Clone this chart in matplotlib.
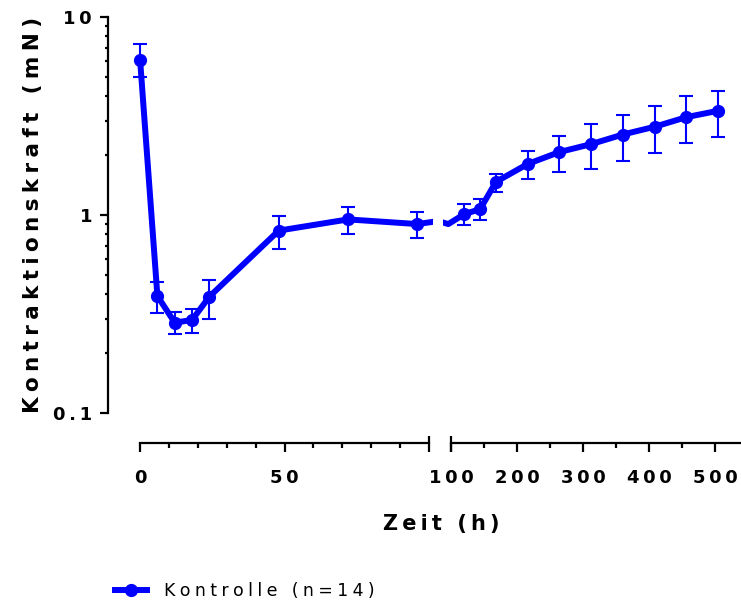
import matplotlib
matplotlib.use('Agg')
import matplotlib.pyplot as plt
from matplotlib.ticker import LogLocator, NullFormatter
import numpy as np

plt.rcParams['font.family'] = ['DejaVu Sans']

# Kontraktionskraft (mN) der Kontrollgruppe ueber die Zeit, Mittelwert und Fehlerbalken
time = np.array([0, 6, 12, 18, 24, 48, 72, 96, 120, 144, 168, 216, 264, 312, 360, 408, 456, 504])
force = np.array([6.1, 0.39, 0.286, 0.295, 0.387, 0.834, 0.95, 0.90, 1.01, 1.07, 1.47,
                  1.81, 2.08, 2.28, 2.55, 2.79, 3.12, 3.36])
upper = np.array([7.28, 0.46, 0.325, 0.335, 0.47, 0.99, 1.10, 1.035, 1.14, 1.20, 1.62,
                  2.10, 2.50, 2.87, 3.20, 3.56, 4.0, 4.23])
lower = np.array([5.0, 0.32, 0.25, 0.253, 0.297, 0.671, 0.805, 0.762, 0.89, 0.94, 1.30,
                  1.52, 1.64, 1.71, 1.88, 2.06, 2.30, 2.49])

xticks_left = [0, 50]
xticks_right = [100, 200, 300, 400, 500]
yticks = [0.1, 1, 10]
ytick_labels = ['0.1', '1', '10']
label = 'Kontrolle (n=14)'

blue = '#0000ff'
THIN = '\u2009'     # Prism-style letter spacing
QUARTER = '\u2005'


def spaced(s, sp=THIN):
    return sp.join(s)


W, H = 741, 604
fig = plt.figure(figsize=(W / 100, H / 100), dpi=100)


def fx(px):
    return px / W


def fy(py):
    return 1 - py / H


# broken x axis: 0-100 h (linear) and 100-500 h (compressed)
ax1 = fig.add_axes([fx(131.4), fy(413), (433 - 131.4) / W, 396 / H])
ax2 = fig.add_axes([fx(443), fy(413), (741 - 443) / W, 396 / H])

yerr = [force - lower, upper - force]
ekw = dict(ecolor=blue, elinewidth=1.5, capsize=4.7, capthick=1.5)

(line, caps, bars) = ax1.errorbar(time, force, yerr=yerr, fmt='-o', color=blue, lw=4.3,
                                  ms=8.5, **ekw)

right = time > 100
ax2.plot(time, force, '-', color=blue, lw=4.3)
ax2.errorbar(time[right], force[right], yerr=[force[right] - lower[right], upper[right] - force[right]],
             fmt='o', color=blue, ms=8.5, **ekw)

for ax in (ax1, ax2):
    ax.set_yscale('log')
    ax.set_ylim(0.1, 10)
    ax.set_facecolor('none')
    ax.spines['top'].set_visible(False)
    ax.spines['right'].set_visible(False)
    ax.spines['bottom'].set_position(('outward', 30 / 1.389))
    ax.spines['bottom'].set_linewidth(1.6)
    ax.spines['left'].set_linewidth(1.6)
    ax.tick_params(axis='x', which='major', length=6.5, width=1.6, pad=12)
    ax.tick_params(axis='x', which='minor', length=3.6, width=1.6)

ax1.set_xlim(-3, 101.4)
ax2.set_xlim(87.9, 538.7)
ax1.spines['bottom'].set_bounds(0, 100)
ax2.spines['bottom'].set_bounds(100, 538.7)
ax1.spines['left'].set_position(('outward', (131.4 - 108) / 1.389))
ax2.spines['left'].set_visible(False)
ax2.tick_params(axis='y', which='both', left=False, labelleft=False)

tick_font = dict(fontsize=13, fontweight='bold')
ax1.set_xticks(xticks_left, [spaced(str(t)) for t in xticks_left], **tick_font)
ax1.set_xticks(np.arange(10, 100, 10), minor=True)
ax2.set_xticks(xticks_right, [spaced(str(t)) for t in xticks_right], **tick_font)
ax2.set_xticks(np.arange(150, 500, 100), minor=True)

ax1.set_yticks(yticks, [spaced(s) for s in ytick_labels], **tick_font)
ax1.yaxis.set_minor_locator(LogLocator(base=10, subs=np.arange(2, 10)))
ax1.yaxis.set_minor_formatter(NullFormatter())
ax1.tick_params(axis='y', which='major', length=5.5, width=1.6, pad=6)
ax1.tick_params(axis='y', which='minor', length=2.5, width=1.6)

# break marks at 100 h on both segments
for ax in (ax1, ax2):
    ax.plot([100, 100], [-23 / 396, -39 / 396], transform=ax.get_xaxis_transform(),
            clip_on=False, color='k', lw=1.6, solid_capstyle='butt')

ax1.set_ylabel(spaced('Kontraktionskraft (mN)', QUARTER), fontsize=15.5, fontweight='bold')
ax1.yaxis.set_label_coords(-0.293, 0.5)
fig.text(fx(441), fy(524), spaced('Zeit (h)'), ha='center', va='center',
         fontsize=15, fontweight='bold')

fig.legend([line], [spaced(label, QUARTER)], loc='center left', bbox_to_anchor=(fx(115), fy(591)),
           frameon=False, fontsize=12.5, handlelength=1.85, handletextpad=1.0,
           borderpad=0, borderaxespad=0)

plt.savefig('out.png', dpi=100)
